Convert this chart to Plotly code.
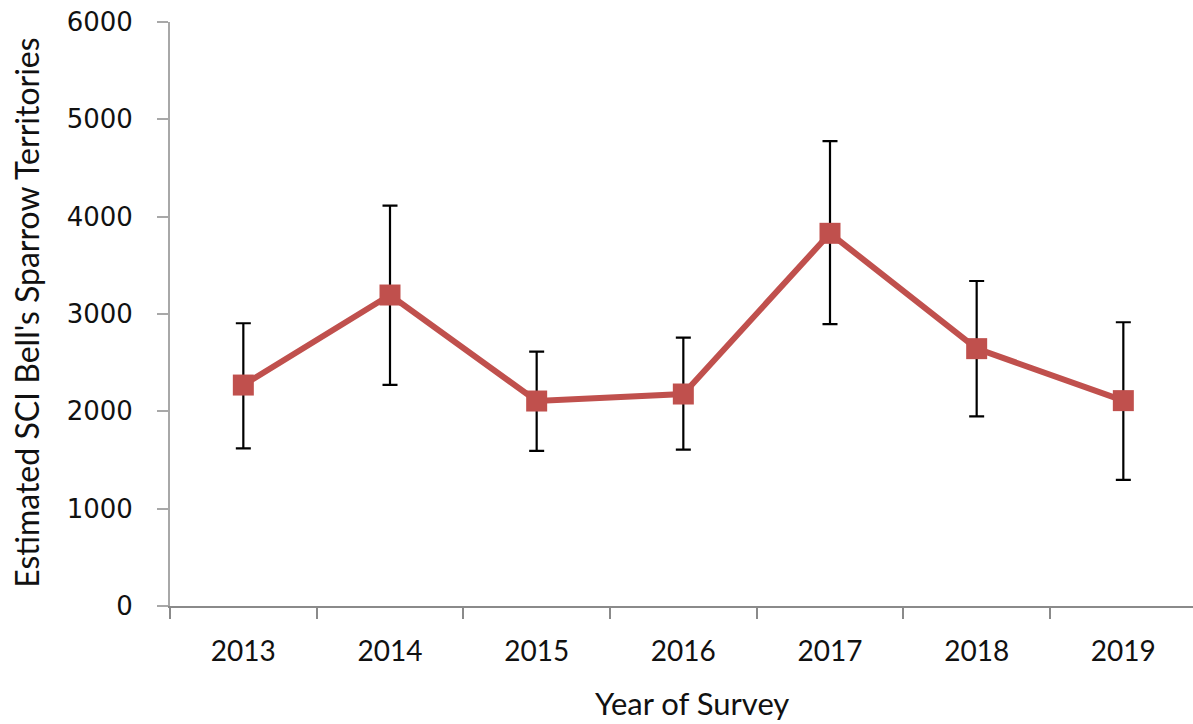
import plotly.graph_objects as go

# Survey years and estimated territory counts with confidence limits
years = ["2013", "2014", "2015", "2016", "2017", "2018", "2019"]
estimates = [2270, 3195, 2106, 2178, 3829, 2644, 2110]
upper_limits = [2905, 4113, 2613, 2757, 4777, 3339, 2915]
lower_limits = [1620, 2271, 1593, 1606, 2897, 1949, 1295]

err_plus = [u - e for u, e in zip(upper_limits, estimates)]
err_minus = [e - l for e, l in zip(estimates, lower_limits)]

RED = "#C0504D"

fig = go.Figure()
fig.add_trace(go.Scatter(
    x=years,
    y=estimates,
    mode="lines+markers",
    line=dict(color=RED, width=6),
    marker=dict(symbol="square", size=21, color=RED),
    error_y=dict(type="data", array=err_plus, arrayminus=err_minus,
                 color="black", thickness=2.2, width=7.5),
    showlegend=False,
    cliponaxis=False,
))

fig.update_layout(
    width=1193, height=724,
    margin=dict(l=170, r=0, t=22, b=118),
    paper_bgcolor="white", plot_bgcolor="white",
    font=dict(family="Lato, Open Sans, sans-serif", color="black"),
    xaxis=dict(
        type="category",
        range=[-0.5, 6.475],
        showline=True, linecolor="#8a8a8a", linewidth=2,
        ticks="outside", tickson="boundaries", ticklen=11,
        tickcolor="#8a8a8a", tickwidth=1.5,
        showgrid=False, zeroline=False,
        tickfont=dict(family="Lato, Open Sans, sans-serif", size=28, color="#111"),
        ticklabelstandoff=19,
    ),
    yaxis=dict(
        range=[0, 6000], dtick=1000,
        showline=True, linecolor="#a8a8a8", linewidth=2,
        ticks="outside", ticklen=11, tickcolor="#a8a8a8", tickwidth=1.5,
        showgrid=False, zeroline=False,
        tickfont=dict(family="DejaVu Sans, Verdana, sans-serif", size=26, color="#111"),
        ticklabelstandoff=19,
    ),
    annotations=[
        dict(text="Year of Survey", xref="paper", yref="paper",
             x=(692 - 170) / 1023, y=-(703 - 606) / 584,
             xanchor="center", yanchor="middle", showarrow=False,
             font=dict(family="Lato, Open Sans, sans-serif", size=31, color="#111")),
        dict(text="Estimated SCI Bell's Sparrow Territories", xref="paper", yref="paper",
             x=-(170 - 27) / 1023, y=0.502, textangle=-90,
             xanchor="center", yanchor="middle", showarrow=False,
             font=dict(family="Lato, Open Sans, sans-serif", size=32, color="#111")),
    ],
)

fig.write_html("out.html")
